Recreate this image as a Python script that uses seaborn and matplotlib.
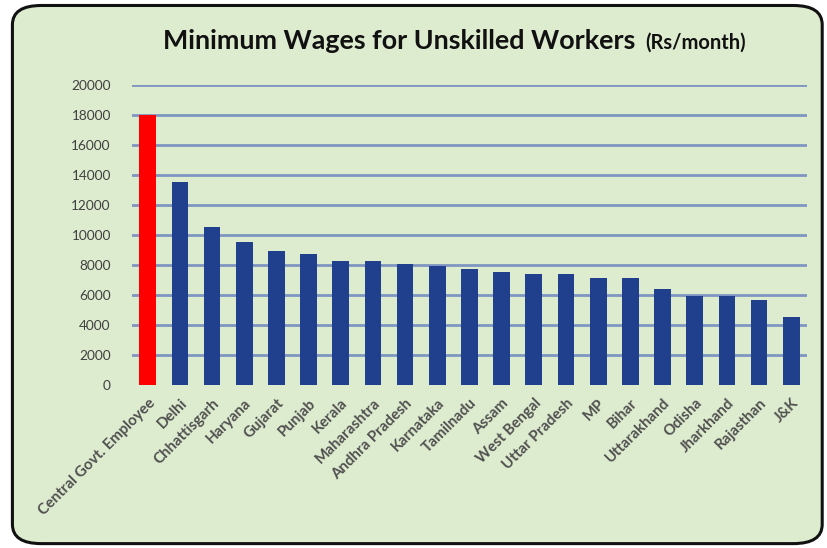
import pandas as pd
import matplotlib.pyplot as plt
import seaborn as sns
from matplotlib.patches import FancyBboxPatch

# данные
states = ["Central Govt. Employee", "Delhi", "Chhattisgarh", "Haryana", "Gujarat",
          "Punjab", "Kerala", "Maharashtra", "Andhra Pradesh", "Karnataka",
          "Tamilnadu", "Assam", "West Bengal", "Uttar Pradesh", "MP", "Bihar",
          "Uttarakhand", "Odisha", "Jharkhand", "Rajasthan", "J&K"]
wages = [18000, 13560, 10500, 9500, 8900, 8700, 8250, 8250, 8050, 7950,
         7700, 7500, 7420, 7380, 7100, 7100, 6380, 5950, 5950, 5670, 4530]
y_ticks = [0, 2000, 4000, 6000, 8000, 10000, 12000, 14000, 16000, 18000, 20000]

df = pd.DataFrame({"state": states, "wage": wages})
bar_colors = ["#FF0000"] + ["#203F8C"] * (len(states) - 1)

bg = "#DDEBCF"
plt.rcParams['font.family'] = ['Lato', 'DejaVu Sans']

fig = plt.figure(figsize=(8.28, 5.48), dpi=100)
fig.patch.set_facecolor("white")
frame = FancyBboxPatch((0.015, 0.008), 0.978, 0.982,
                       boxstyle="round,pad=0,rounding_size=0.035",
                       transform=fig.transFigure, facecolor=bg,
                       edgecolor="#111111", linewidth=2.2, zorder=-10)
fig.patches.append(frame)

ax = fig.add_axes([0.159, 0.2974, 0.816, 0.5476])
ax.set_facecolor("none")

sns.barplot(data=df, x="state", y="wage", hue="state", palette=bar_colors,
            legend=False, width=0.52, saturation=1, ax=ax, zorder=3)

ax.set_ylim(0, 20000)
ax.set_xlim(-0.5, len(states) - 0.5)
ax.set_yticks(y_ticks)
ax.set_yticklabels([str(v) for v in y_ticks])
for v in y_ticks[1:]:
    ax.axhline(v, color="#7F95C2", linewidth=2, zorder=1)

for s in ax.spines.values():
    s.set_visible(False)
ax.tick_params(axis="both", length=0, colors="#404040")
ax.tick_params(axis="y", labelsize=9.8, pad=15)
ax.set_xticks(range(len(states)))
ax.set_xticklabels(states, rotation=45, ha="right", rotation_mode="anchor",
                   fontsize=10.8, fontweight="bold", color="#505050")
ax.tick_params(axis="x", pad=8)
ax.set_xlabel("")
ax.set_ylabel("")

fig.text(0.197, 0.925, "Minimum Wages for Unskilled Workers", fontsize=19.4,
         fontweight="bold", color="#111111", va="center", ha="left")
fig.text(0.779, 0.922, "(Rs/month)", fontsize=14.5, fontweight="bold",
         color="#111111", va="center", ha="left")

fig.savefig("out.png", dpi=100, facecolor=fig.get_facecolor())
